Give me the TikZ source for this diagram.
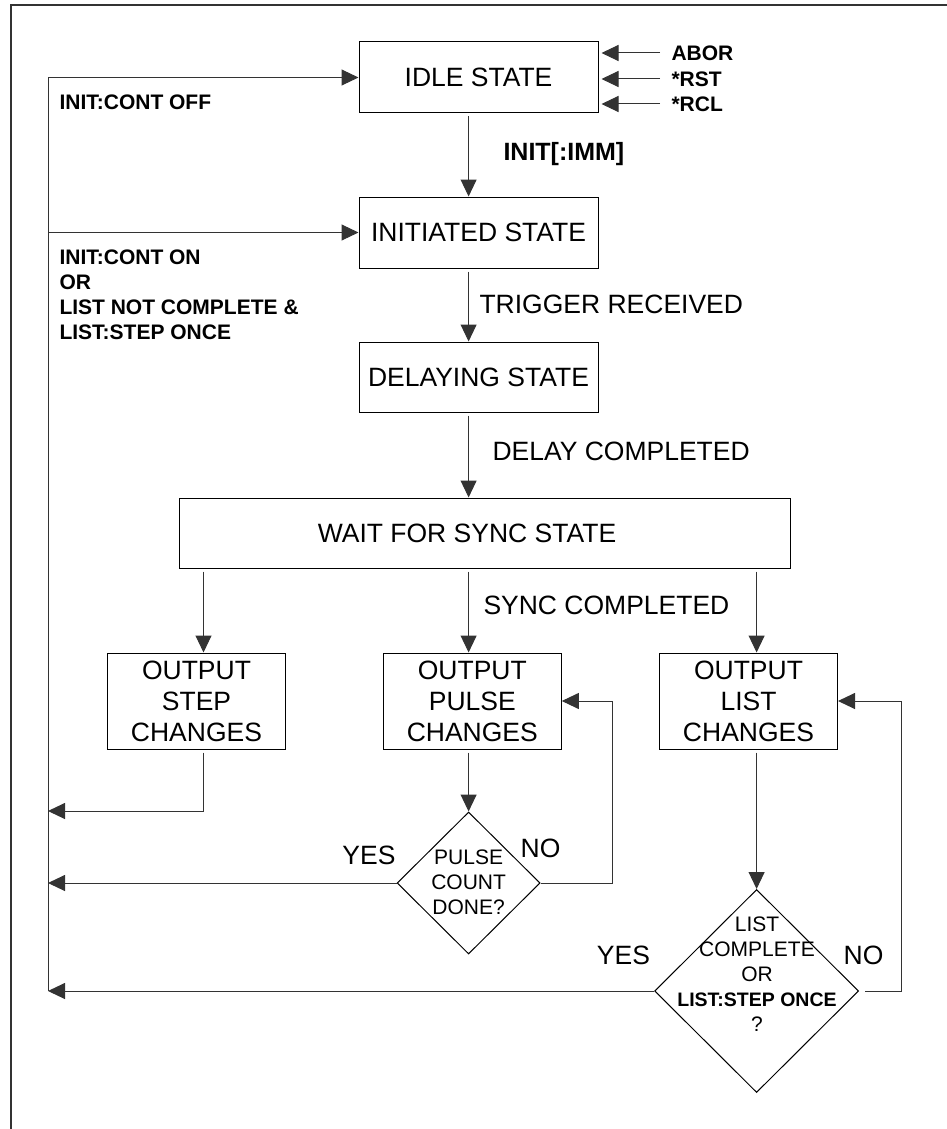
\documentclass[tikz,border=0pt]{standalone}
\usepackage{fontspec}
\setmainfont{Liberation Sans}
\usetikzlibrary{shapes.geometric,arrows.meta}
\tikzset{
	->, % makes the connectors directed
	>={Triangle[length=17pt,width=16pt]}, % filled arrow heads
	box/.style={draw, minimum width=239pt, minimum height=71pt, font=\fontsize{26.5}{31}\selectfont}, % state boxes
	outbox/.style={draw, minimum width=178pt, minimum height=96pt, align=center, font=\fontsize{26.5}{31}\selectfont}, % output boxes
	decision/.style={draw, diamond, inner sep=0pt}, % question diamonds
	qtext/.style={align=center, inner sep=0pt, font=\fontsize{21}{25}\selectfont}, % text in the diamonds
	lbl/.style={inner sep=0pt, font=\fontsize{26.5}{31}\selectfont}, % connector labels
	cmd/.style={inner sep=0pt, align=left, font=\fontsize{21}{25}\selectfont\bfseries}, % commands
	wire/.style={black!80, shorten >=0pt},
}
\begin{document}
\begin{tikzpicture}[x=1pt,y=-1pt,line width=1pt]
		\useasboundingbox (0,0) rectangle (947,1129);
		\draw[-, line width=2pt, black!80] (947,5) -- (10.5,5) -- (10.5,1129);

		% columns and the return rail
		\coordinate (rail) at (48,0);
		\coordinate (colA) at (203.5,0);
		\coordinate (colB) at (468.6,0);
		\coordinate (colC) at (756.6,0);
		\coordinate (stepback) at (48,811);

		\node[box] (idle) at (478.5,77.5) {IDLE STATE};
		\node[box] (initiated) at (478.5,232.5) {INITIATED STATE};
		\node[box, minimum height=70pt] (delaying) at (478.5,377) {DELAYING STATE};
		\node[box, minimum width=611pt, minimum height=70pt] (wait) at (484.5,533) {};
		\node[lbl] (waittext) at (467,533) {WAIT FOR SYNC STATE};

		\node[outbox] (step) at (196.5,701) {OUTPUT\\STEP\\CHANGES};
		\node[outbox] (pulse) at (472.3,701) {OUTPUT\\PULSE\\CHANGES};
		\node[outbox] (list) at (748.5,701) {OUTPUT\\LIST\\CHANGES};

		\node[decision, minimum width=143pt, minimum height=142pt] (pulseq) at (468.6,883) {};
		\node[qtext] (pulseqtext) at (468.6,882) {PULSE\\COUNT\\DONE?};
		\node[decision, minimum width=204pt, minimum height=203pt] (listq) at (756.6,991) {};
		\node[qtext] (listqtext) at (757,974) {LIST\\COMPLETE\\OR\\{\fontsize{19.5}{25}\selectfont\bfseries LIST:STEP ONCE}\\?};

		% commands and labels
		\node[cmd, anchor=west] (abor) at (671,53) {ABOR};
		\node[cmd, anchor=west] (rst) at (671,79) {*RST};
		\node[cmd, anchor=west] (rcl) at (671,104) {*RCL};
		\node[cmd, anchor=west] (contoff) at (59,102) {INIT:CONT OFF};
		\node[cmd, anchor=west] (conton) at (59,294.5) {INIT:CONT ON\\OR\\LIST NOT COMPLETE \&\\LIST:STEP ONCE};
		\node[cmd, font=\fontsize{25}{30}\selectfont\bfseries, anchor=base west] (imm) at (503,160) {INIT[:IMM]};
		\node[lbl, anchor=west] (trig) at (479,304) {TRIGGER RECEIVED};
		\node[lbl, anchor=west] (delaydone) at (492,451) {DELAY COMPLETED};
		\node[lbl, anchor=west] (syncdone) at (483,605) {SYNC COMPLETED};
		\node[lbl] (pyes) at (369,855) {YES};
		\node[lbl] (pno) at (540.5,848) {NO};
		\node[lbl] (lyes) at (623.5,955) {YES};
		\node[lbl] (lno) at (863.5,955) {NO};

		\draw[wire, shorten <=11pt, shorten >=3pt] (abor.west) -- (idle.east |- abor.west);
		\draw[wire, shorten <=11pt, shorten >=3pt] (rst.west) -- (idle.east |- rst.west);
		\draw[wire, shorten <=11pt, shorten >=3pt] (rcl.west) -- (idle.east |- rcl.west);

		\draw[wire, shorten <=3pt] (idle.south -| colB) -- (initiated.north -| colB);
		\draw[wire, shorten <=3pt] (initiated.south -| colB) -- (delaying.north -| colB);
		\draw[wire, shorten <=3pt] (delaying.south -| colB) -- (wait.north -| colB);
		\draw[wire, shorten <=3pt] (wait.south -| colA) -- (step.north -| colA);
		\draw[wire, shorten <=3pt] (wait.south -| colB) -- (pulse.north -| colB);
		\draw[wire, shorten <=3pt] (wait.south -| colC) -- (list.north -| colC);
		\draw[wire, shorten <=3pt] (pulse.south -| colB) -- (pulseq.north);
		\draw[wire, shorten <=3pt] (list.south -| colC) -- (listq.north);

		% back to the start
		\draw[wire, -] (rail |- idle.west) -- (rail |- listq.west);
		\draw[wire] (rail |- idle.west) -- (idle.west);
		\draw[wire] (rail |- initiated.west) -- (initiated.west);
		\draw[wire, shorten <=3pt] (step.south -| colA) |- (stepback);
		\draw[wire] (pulseq.west) -- (rail |- pulseq.west);
		\draw[wire] (pulseq.east) -- ++(72,0) |- (pulse.east);
		\draw[wire] (listq.west) -- (rail |- listq.west);
		\draw[wire] ([xshift=6pt]listq.east) -- ++(36,0) |- (list.east);
	\end{tikzpicture}
\end{document}
